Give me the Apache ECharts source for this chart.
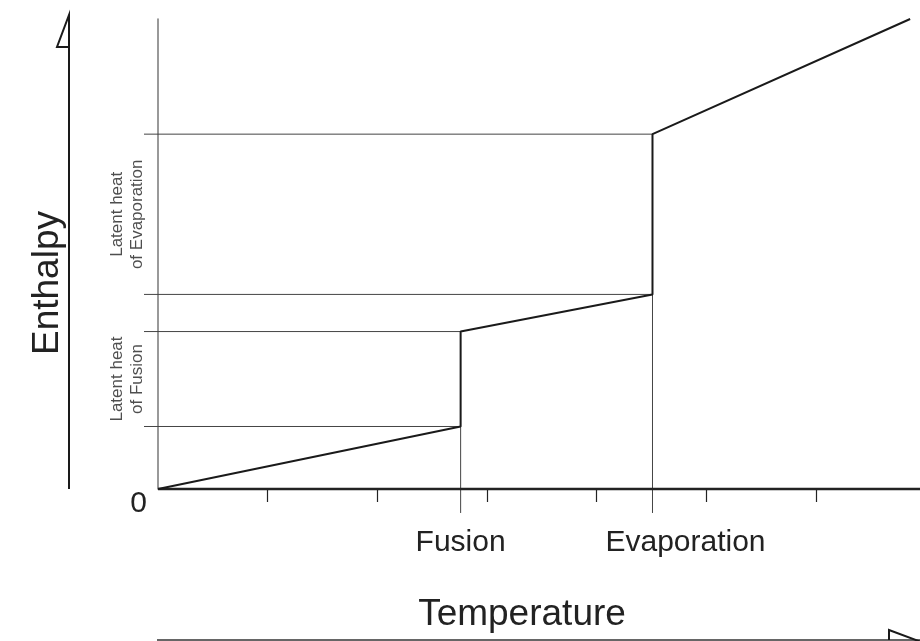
<!DOCTYPE html>
<html>
<head>
<meta charset="utf-8">
<script src="https://cdn.jsdelivr.net/npm/echarts@6/dist/echarts.min.js"></script>
<style>
html,body{margin:0;padding:0;background:#fff;}
#chart{width:920px;height:641px;}
</style>
</head>
<body>
<div id="chart"></div>
<script>
// ---- data ----
const tempTicks = [1, 2, 3, 4, 5, 6];
const curveT = [0, 2.76, 2.76, 4.51, 4.51, 6.86];
const curveH = [0, 1.33, 3.35, 4.14, 7.55, 10.0];
const phaseNames = ['Fusion', 'Evaporation'];
const phaseT = [2.76, 4.51];
const levelH = [1.33, 3.35, 4.14, 7.55];      // horizontal guide levels
const levelPhase = [0, 0, 1, 1];               // which phase each level belongs to
const latentLabels = ['Latent heat\nof Fusion', 'Latent heat\nof Evaporation'];
const yLabels = ['0'];
const tempRange = [-0.128, 6.95];

const FONT = 'Liberation Sans, Arial, Helvetica, sans-serif';
const guideLeft = tempRange[0];
const guideBottom = -0.51;

const chart = echarts.init(document.getElementById('chart'), null, {renderer: 'canvas'});

const series = [];
// baseline (temperature axis line, starting at the origin)
series.push({
  type: 'line', clip: false, symbol: 'none', silent: true,
  data: [[0, 0], [tempRange[1], 0]],
  lineStyle: {color: '#222', width: 2.5}, z: 4
});
// guides: horizontal
levelH.forEach((h, i) => {
  series.push({
    type: 'line', clip: false, symbol: 'none', silent: true,
    data: [[guideLeft, h], [phaseT[levelPhase[i]], h]],
    lineStyle: {color: '#444', width: 1}, z: 2
  });
});
// guides: vertical (below lower level of each phase)
phaseT.forEach((t, i) => {
  series.push({
    type: 'line', clip: false, symbol: 'none', silent: true,
    data: [[t, levelH[i * 2]], [t, guideBottom]],
    lineStyle: {color: '#444', width: 1}, z: 2
  });
});
// main curve
series.push({
  type: 'line', clip: false, symbol: 'none', silent: true,
  data: curveT.map((t, i) => [t, curveH[i]]),
  lineStyle: {color: '#1a1a1a', width: 2}, z: 5
});
// latent heat labels
series.push({
  type: 'scatter', clip: false, symbolSize: 0, silent: true,
  data: latentLabels.map((txt, i) => ({
    value: [-0.28, (levelH[i * 2] + levelH[i * 2 + 1]) / 2],
    label: {formatter: txt}
  })),
  label: {
    show: true, position: 'inside', rotate: 90,
    fontSize: 17, lineHeight: 20, color: '#222', fontFamily: FONT, align: 'center', verticalAlign: 'middle'
  }
});

chart.setOption({
  animation: false,
  backgroundColor: '#fff',
  grid: {left: 144, right: 0, top: 19, bottom: 152, containLabel: false},
  xAxis: {
    type: 'value', min: tempRange[0], max: tempRange[1],
    name: 'Temperature', nameLocation: 'middle', nameGap: 107,
    nameTextStyle: {fontSize: 37, color: '#222', fontFamily: FONT, padding: [0, 20, 0, 0]},
    axisLine: {show: false},
    axisTick: {show: true, customValues: tempTicks, length: 13, lineStyle: {color: '#222', width: 1.2}},
    axisLabel: {
      show: true, customValues: phaseT, margin: 39, fontSize: 30, color: '#222', fontFamily: FONT,
      formatter: function (v) {
        const i = phaseT.findIndex(p => Math.abs(p - v) < 1e-6);
        return i < 0 ? '' : '{l' + i + '|' + phaseNames[i] + '}';
      },
      rich: {
        l0: {fontSize: 30, color: '#222', fontFamily: FONT},
        l1: {fontSize: 30, color: '#222', fontFamily: FONT, padding: [0, 0, 0, 66]}
      }
    },
    splitLine: {show: false}
  },
  yAxis: {
    type: 'value', min: 0, max: 10, interval: 1,
    name: 'Enthalpy', nameLocation: 'middle', nameGap: 78,
    nameTextStyle: {fontSize: 37, color: '#222', fontFamily: FONT, padding: [0, 58, 0, 0]},
    axisLine: {show: true, onZero: true, lineStyle: {color: '#777', width: 1.5}},
    axisTick: {show: false},
    axisLabel: {
      show: true, margin: -3, fontSize: 30, color: '#222', fontFamily: FONT, verticalAlign: 'top',
      formatter: v => (v === 0 ? yLabels[0] : '')
    },
    splitLine: {show: false}
  },
  graphic: [
    {type: 'polyline', shape: {points: [[69, 489], [69, 15], [57, 47], [69, 47]]},
     style: {stroke: '#1a1a1a', lineWidth: 2, fill: null}},
    {type: 'polyline', shape: {points: [[157, 640], [922, 640]]},
     style: {stroke: '#333', lineWidth: 1.5, fill: null}},
    {type: 'polyline', shape: {points: [[889, 640], [889, 630], [924, 643]]},
     style: {stroke: '#1a1a1a', lineWidth: 2, fill: null}}
  ],
  series: series
});
</script>
</body>
</html>
